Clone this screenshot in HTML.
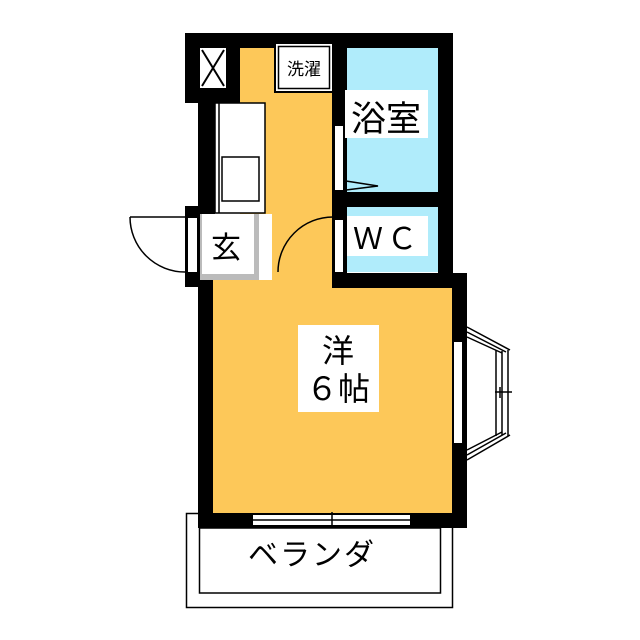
<!DOCTYPE html>
<html><head><meta charset="utf-8"><style>
html,body{margin:0;padding:0;background:#fff}
svg{display:block}
text{font-family:"Liberation Sans","Noto Sans CJK JP",sans-serif;fill:#000}
</style></head><body>
<svg width="640" height="640" viewBox="0 0 640 640" xmlns="http://www.w3.org/2000/svg">
<rect x="186.5" y="513.5" width="266" height="94" fill="#fff" stroke="#000" stroke-width="1.5"/>
<rect x="199.5" y="528" width="241" height="65" fill="#fff" stroke="#000" stroke-width="1.5"/>
<text x="312" y="565" font-size="30" text-anchor="middle" letter-spacing="2">ベランダ</text>
<rect x="185" y="33" width="268" height="15" fill="#000"/>
<rect x="185" y="33" width="55" height="70" fill="#000"/>
<rect x="438" y="33" width="15" height="255" fill="#000"/>
<rect x="198" y="103" width="17" height="110" fill="#000"/>
<rect x="185" y="206" width="30" height="81" fill="#000"/>
<rect x="198" y="280" width="15" height="248" fill="#000"/>
<rect x="332" y="48" width="15" height="240" fill="#000"/>
<rect x="332" y="273" width="135" height="15" fill="#000"/>
<rect x="452" y="273" width="15" height="255" fill="#000"/>
<rect x="198" y="513" width="269" height="15" fill="#000"/>
<rect x="347" y="192" width="91" height="15" fill="#000"/>
<rect x="200" y="48" width="26" height="40" fill="#fff"/>
<path d="M202 50 L224 86 M224 50 L202 86" stroke="#000" stroke-width="2"/>
<rect x="240" y="48" width="92" height="225" fill="#fdc859"/>
<rect x="213" y="288" width="239" height="225" fill="#fdc859"/>
<rect x="259" y="213" width="73" height="75" fill="#fdc859"/>
<rect x="213" y="279" width="119" height="10" fill="#fdc859"/>
<rect x="215" y="103" width="50" height="110" fill="#fff" stroke="#000" stroke-width="1.5"/>
<line x1="219" y1="103" x2="219" y2="213" stroke="#000" stroke-width="1.5"/>
<rect x="222" y="157" width="37" height="44" fill="#fff" stroke="#000" stroke-width="1.5"/>
<rect x="274" y="42" width="60" height="51" fill="#000"/>
<rect x="276" y="44" width="56" height="47" fill="#fff"/>
<rect x="278.5" y="46.5" width="51" height="42" fill="none" stroke="#000" stroke-width="1.5"/>
<text x="304" y="75" font-size="17" text-anchor="middle">洗濯</text>
<rect x="347" y="48" width="91" height="144" fill="#b0ecfb"/>
<rect x="345" y="90" width="83" height="48" fill="#fff"/>
<text x="386" y="131" font-size="35" text-anchor="middle">浴室</text>
<rect x="335" y="126" width="8" height="64" fill="#fff"/>
<path d="M346 181 L378 186 L346 190" fill="none" stroke="#000" stroke-width="1.5"/>
<rect x="347" y="207" width="91" height="65" fill="#b0ecfb"/>
<rect x="347" y="216" width="81" height="40" fill="#fff"/>
<text x="387" y="249" font-size="30" text-anchor="middle" letter-spacing="4">ＷＣ</text>
<rect x="335" y="220" width="8" height="52" fill="#fff"/>
<path d="M278 272 A55 55 0 0 1 333 217" fill="none" stroke="#000" stroke-width="1.5"/>
<rect x="200" y="214" width="59" height="66" fill="#bbb"/>
<rect x="202" y="214" width="52" height="60" fill="#fff"/>
<rect x="259" y="214" width="13" height="66" fill="#fff"/>
<text x="226" y="258" font-size="30" text-anchor="middle">玄</text>
<rect x="188" y="218" width="9" height="54" fill="#fff"/>
<path d="M130 217 L185 217 M130 217 A55 55 0 0 0 185 272" fill="none" stroke="#000" stroke-width="1.5"/>
<rect x="298" y="325" width="81" height="87" fill="#fff"/>
<text x="338" y="362" font-size="32" text-anchor="middle">洋</text>
<text x="338" y="400" font-size="32" text-anchor="middle">６帖</text>
<rect x="454" y="342" width="8" height="101" fill="#fff"/>
<g stroke="#000" stroke-width="1.5" fill="none">
<path d="M467 327 L510 350 M467 332 L506 352 M467 337 L502 353"/>
<path d="M467 460 L510 435 M467 455 L506 433 M467 450 L502 432"/>
<path d="M496 350 L496 436 M502 351 L502 435 M508 350 L508 436"/>
<path d="M495 392 L512 392 M500 387 L500 398"/>
</g>
<rect x="253" y="515" width="157" height="10" fill="#fff"/>
<g stroke="#000" stroke-width="1.5"><line x1="253" y1="520" x2="410" y2="520"/><line x1="332" y1="512" x2="332" y2="528"/></g>
</svg>
</body></html>
